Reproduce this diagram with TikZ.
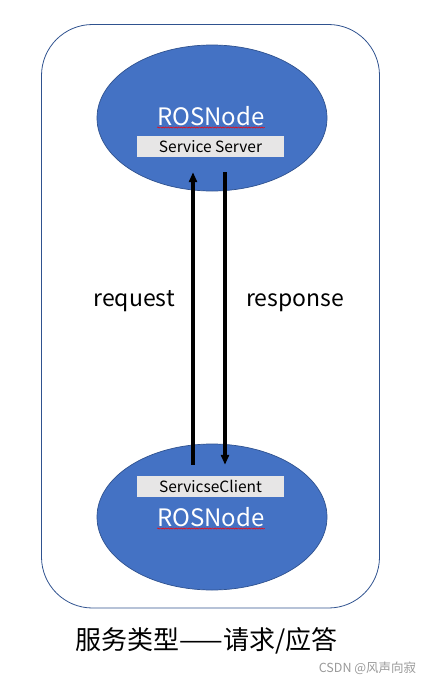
\documentclass[tikz,border=0pt]{standalone}
\usepackage{fontspec}
\setmainfont{Noto Sans CJK SC}
\usetikzlibrary{arrows.meta,shapes.geometric,decorations.pathmorphing}
\definecolor{rosblue}{HTML}{4472C4}
\definecolor{rosedge}{HTML}{2F528F}
\definecolor{boxgray}{HTML}{E7E6E6}
\definecolor{markgray}{HTML}{999999}

\begin{document}
\begin{tikzpicture}[x=1pt,y=-1pt,
    rosnode/.style={ellipse, fill=rosblue, draw=rosedge, line width=0.7pt,
      minimum width=230pt, minimum height=146pt},
    roslabel/.style={text=white, font=\fontsize{24}{24}\selectfont, inner sep=0pt, anchor=base},
    rolebox/.style={fill=boxgray, minimum width=147pt, minimum height=21pt, inner sep=0pt,
      font=\fontsize{15.5}{15.5}\selectfont},
    msg/.style={-{Triangle[length=10pt,width=8pt]}, line width=3.2pt},
    msglabel/.style={font=\fontsize{23}{23}\selectfont, anchor=base, inner sep=0pt},
    squiggle/.style={red, line width=0.5pt, decorate,
      decoration={snake, amplitude=0.6pt, segment length=2.6pt}}]
  \useasboundingbox (0,0) rectangle (436,683);

    % Rahmen
  \draw[rosedge, line width=0.8pt, rounded corners=51pt] (41.5,24.5) rectangle (379.5,608);

    % Server
  \node[rosnode] (server) at (212,118) {};
  \node[roslabel] (srvname) at (211,125) {ROSNode};
  \draw[squiggle] ([yshift=-2.5pt]srvname.base west) -- ([yshift=-2.5pt]srvname.base east);
  \node[rolebox] (srv) at (210.5,146.5) {Service Server};

    % Client
  \node[rosnode] (client) at (212,517) {};
  \node[roslabel] (cliname) at (211,526) {ROSNode};
  \draw[squiggle] ([yshift=-2.5pt]cliname.base west) -- ([yshift=-2.5pt]cliname.base east);
  \node[rolebox] (cli) at (210.5,486.5) {ServicseClient};

    % Nachrichten
  \draw[msg, shorten <=11pt, shorten >=15pt] ([xshift=-17.5pt]cli.north) -- ([xshift=-17.5pt]srv.south);
  \draw[msg, shorten <=15pt, shorten >=11pt] ([xshift=14.5pt]srv.south) -- ([xshift=14.5pt]cli.north);
  \node[msglabel] (req) at (134,306.5) {request};
  \node[msglabel] (resp) at (295,306.5) {response};

    % Titel
  \node[font=\fontsize{26}{26}\selectfont, anchor=base, inner sep=0pt] (title) at (206.5,649) {服务类型——请求/应答};
  \node[font=\fontsize{12.5}{12.5}\selectfont, text=markgray, inner sep=0pt] (mark) at (367.5,668) {CSDN @风声向寂};
\end{tikzpicture}
\end{document}
